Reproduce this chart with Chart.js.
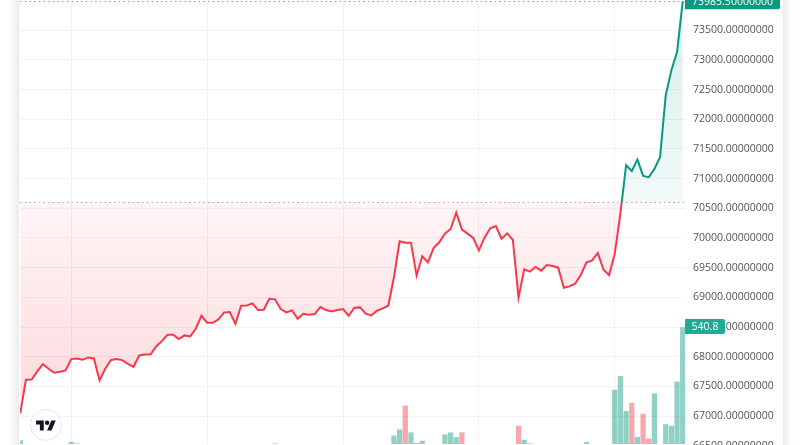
<!DOCTYPE html>
<html>
<head>
<meta charset="utf-8">
<title>Price chart</title>
<style>
  html, body { margin: 0; padding: 0; background: #fff; overflow: hidden; }
  #card { position: absolute; left: 19px; top: -20px; width: 764px; height: 485px; background: #fff; box-shadow: 0 0 12px rgba(0,0,0,.16); }
  #wrap { position: absolute; left: 19px; top: 0; width: 764px; height: 445px; }
  #logo { position: absolute; left: 30px; top: 409px; width: 30px; height: 30px; border-radius: 50%; background: #fff; border: 1px solid #e6e7ee; display: flex; align-items: center; justify-content: center; }
</style>
<script src="https://cdn.jsdelivr.net/npm/chart.js@4/dist/chart.umd.min.js"></script>
</head>
<body>
<div id="card"></div>
<div id="wrap"><canvas id="chart" width="764" height="445"></canvas></div>
<div id="logo">
  <svg width="20" height="11" viewBox="0 0 36 18"><path fill="#131722" d="M14 18H7V7H0V0h14v18zM28 18h-8L27.5 0h8L28 18z"/><circle fill="#131722" cx="20" cy="4" r="4"/></svg>
</div>
<script>
const prices = [
  67049, 67611, 67617, 67752, 67875, 67797, 67729, 67746, 67769, 67960,
  67971, 67948, 67988, 67971, 67600, 67797, 67943, 67960, 67943, 67881,
  67830, 68021, 68038, 68038, 68173, 68263, 68370, 68370, 68297, 68359,
  68342, 68471, 68690, 68572, 68572, 68628, 68746, 68752, 68555, 68859,
  68864, 68898, 68786, 68791, 68977, 68966, 68803, 68746, 68780, 68640,
  68724, 68707, 68718, 68836, 68786, 68763, 68786, 68803, 68690, 68825,
  68831, 68724, 68696, 68775, 68814, 68859, 69342, 69944, 69921, 69921,
  69365, 69691, 69589, 69831, 69927, 70073, 70151, 70427, 70140, 70073,
  70000, 69792, 70005, 70163, 70202, 69988, 70078, 69966, 68994, 69471,
  69432, 69511, 69449, 69545, 69528, 69500, 69162, 69185, 69230, 69376,
  69589, 69623, 69747, 69466, 69376, 69736, 70420, 71225, 71129, 71321,
  71045, 71023, 71163, 71365, 72405, 72827, 73135, 73985.5
];
// 0 = bar is below the bottom edge of the picture, height unknown
const volumes = [
  111, 0, 0, 0, 0, 0, 0, 0, 0, 105,
  99, 0, 0, 0, 0, 0, 0, 0, 0, 0,
  0, 0, 0, 0, 0, 0, 0, 0, 0, 0,
  0, 0, 0, 0, 0, 0, 0, 0, 0, 0,
  0, 0, 0, 0, 0, 99, 0, 0, 0, 0,
  0, 0, 0, 0, 0, 0, 0, 0, 0, 0,
  0, 0, 0, 0, 0, 0, 129, 152, 243, 141,
  101, 109, 0, 0, 0, 133, 141, 123, 141, 0,
  0, 0, 0, 0, 0, 0, 0, 0, 166, 113,
  99, 0, 0, 0, 0, 0, 0, 0, 0, 0,
  105, 0, 0, 0, 0, 303, 355, 222, 253, 124,
  212, 117, 289, 0, 172, 166, 334, 540.8
];
const downBars = [45, 68, 70, 78, 88, 90, 108, 110, 111];
const priceTicks = [66500, 67000, 67500, 68000, 68500, 69000, 69500, 70000, 70500, 71000, 71500, 72000, 72500, 73000, 73500];
const timeGrid = [9, 33, 57, 81, 105];
const baseValue = 70596;
const lastPrice = 73985.5;
const lastVolume = 540.8;

const UP = '#089981';
const DOWN = '#f7384a';
const labelFont = '10.5px "Open Sans", sans-serif';

const overlays = {
  id: 'overlays',
  afterDatasetsDraw(c) {
    const { ctx, chartArea: a, scales } = c;
    ctx.save();
    ctx.lineWidth = 1;
    ctx.setLineDash([1.5, 3.2]);
    ctx.strokeStyle = 'rgba(120,123,134,.65)';
    let py = Math.floor(scales.y.getPixelForValue(baseValue)) + 0.5;
    ctx.beginPath(); ctx.moveTo(a.left, py); ctx.lineTo(a.right, py); ctx.stroke();
    ctx.strokeStyle = 'rgba(8,153,129,.7)';
    py = Math.floor(scales.y.getPixelForValue(lastPrice)) + 0.5;
    ctx.beginPath(); ctx.moveTo(a.left, py); ctx.lineTo(a.right, py); ctx.stroke();
    ctx.restore();
  },
  afterDraw(c) {
    const { ctx, chartArea: a, scales } = c;
    const tag = (text, centerY, w, h, fill) => {
      ctx.save();
      ctx.fillStyle = fill;
      ctx.beginPath();
      ctx.roundRect(a.right, centerY - h / 2, w, h, [0, 2, 2, 0]);
      ctx.fill();
      ctx.fillStyle = '#fff';
      ctx.font = labelFont;
      ctx.textBaseline = 'middle';
      ctx.textAlign = 'center';
      ctx.fillText(text, a.right + w / 2, centerY + 0.5);
      ctx.restore();
    };
    tag(lastPrice.toFixed(8), scales.y.getPixelForValue(lastPrice) + 0.5, 95, 15, UP);
    tag(String(lastVolume), scales.vol.getPixelForValue(lastVolume) - 1, 40, 15, '#22ab94');
  }
};

const chart = new Chart(document.getElementById('chart'), {
  data: {
    datasets: [
      {
        type: 'line',
        data: prices.map((v, i) => ({ x: i, y: v })),
        yAxisID: 'y',
        borderColor: UP,
        borderWidth: 2,
        pointRadius: 0,
        tension: 0,
        order: 1
      },
      {
        type: 'bar',
        data: volumes.map((v, i) => ({ x: i, y: v })),
        yAxisID: 'vol',
        barThickness: 4.6,
        backgroundColor: volumes.map((v, i) => downBars.includes(i) ? 'rgba(247,56,74,.45)' : 'rgba(8,153,129,.45)'),
        order: 2
      }
    ]
  },
  plugins: [overlays],
  options: {
    responsive: false,
    animation: false,
    events: [],
    layout: { padding: 0 },
    plugins: { legend: { display: false }, tooltip: { enabled: false } },
    scales: {
      x: {
        type: 'linear',
        offset: false,
        min: -0.05,
        max: 117.4,
        afterBuildTicks: s => { s.ticks = timeGrid.map(v => ({ value: v })); },
        afterFit: s => { s.height = 0; s.paddingLeft = 0; s.paddingRight = 0; },
        ticks: { display: false },
        grid: { color: '#f0f0f2', drawTicks: false, offset: false },
        border: { display: false }
      },
      y: {
        position: 'right',
        min: 66530,
        max: 73991.5,
        afterBuildTicks: s => { s.ticks = priceTicks.map(v => ({ value: v })); },
        afterFit: s => { s.width = 98; s.paddingTop = 0; s.paddingBottom = 0; },
        ticks: {
          autoSkip: false,
          padding: 8,
          color: '#50535e',
          font: { family: '"Open Sans", sans-serif', size: 10.5 },
          callback: v => v.toFixed(8)
        },
        grid: { color: '#f3f3f5', drawTicks: false },
        border: { display: false }
      },
      vol: {
        display: false,
        min: 98,
        max: 1782
      }
    }
  }
});

const yScale = chart.scales.y;
const ctx2 = chart.ctx;
const basePx = yScale.getPixelForValue(baseValue);
const topPx = yScale.getPixelForValue(lastPrice);
const lowPx = yScale.getPixelForValue(Math.min(...prices));

const stroke = ctx2.createLinearGradient(0, topPx, 0, lowPx);
const stop = (basePx - topPx) / (lowPx - topPx);
stroke.addColorStop(0, UP);
stroke.addColorStop(stop, UP);
stroke.addColorStop(stop, DOWN);
stroke.addColorStop(1, DOWN);

const above = ctx2.createLinearGradient(0, topPx, 0, basePx);
above.addColorStop(0, 'rgba(8,153,129,.16)');
above.addColorStop(1, 'rgba(8,153,129,.05)');
const below = ctx2.createLinearGradient(0, basePx, 0, lowPx);
below.addColorStop(0, 'rgba(247,56,74,.05)');
below.addColorStop(1, 'rgba(247,56,74,.19)');

chart.data.datasets[0].borderColor = stroke;
chart.data.datasets[0].fill = { target: { value: baseValue }, above, below };
chart.update('none');
</script>
</body>
</html>
